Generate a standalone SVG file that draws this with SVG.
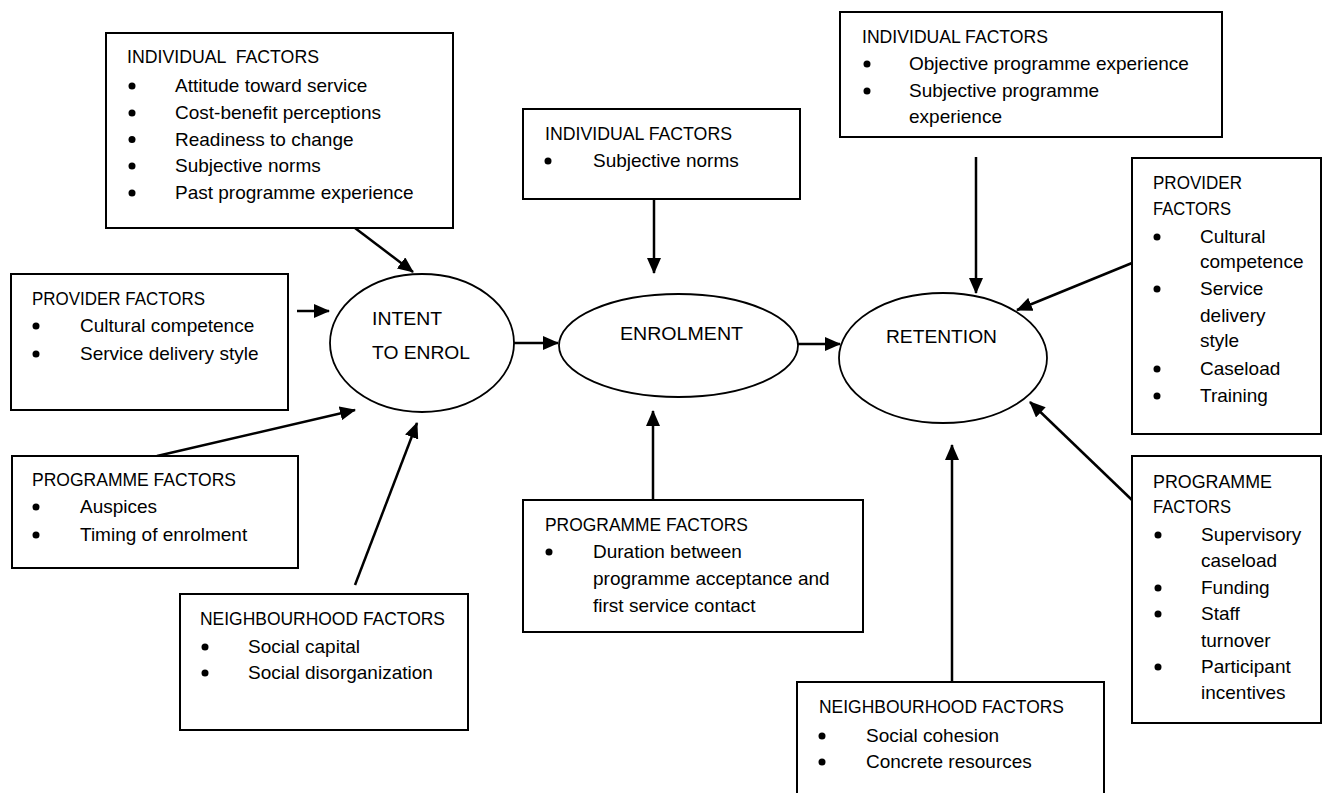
<svg xmlns="http://www.w3.org/2000/svg" width="1322" height="793" viewBox="0 0 1322 793">
  <defs>
    <marker id="arrow" markerUnits="userSpaceOnUse" markerWidth="16" markerHeight="14" viewBox="0 0 16 14" refX="15" refY="7" orient="auto">
      <path d="M0,0 L16,7 L0,14 z" fill="#000"/>
    </marker>
    <style>
      .box { fill: #fff; stroke: #000; stroke-width: 2; }
      .oval { fill: #fff; stroke: #000; stroke-width: 1.8; }
      .link { stroke: #000; stroke-width: 2.5; fill: none; marker-end: url(#arrow); }
      text { font-family: "Liberation Sans", Arial, sans-serif; font-size: 19px; fill: #000; }
      .dot { fill: #000; }
    </style>
  </defs>
  <rect width="1322" height="793" fill="#fff"/>

  <!-- connectors -->
  <g id="connectors">
    <line class="link" x1="355" y1="228" x2="413" y2="272"/>
    <line class="link" x1="297" y1="311" x2="329" y2="311"/>
    <line class="link" x1="157" y1="456" x2="355" y2="410"/>
    <line class="link" x1="355" y1="585" x2="417" y2="423"/>
    <line class="link" x1="514" y1="343" x2="558" y2="343"/>
    <line class="link" x1="654" y1="199" x2="654" y2="273"/>
    <line class="link" x1="653" y1="500" x2="653" y2="411"/>
    <line class="link" x1="798" y1="344" x2="840" y2="344"/>
    <line class="link" x1="976" y1="157" x2="976" y2="293"/>
    <line class="link" x1="1132" y1="263" x2="1017" y2="310"/>
    <line class="link" x1="1132" y1="500" x2="1030" y2="402"/>
    <line class="link" x1="952" y1="682" x2="952" y2="445"/>
  </g>

  <!-- outcome stages -->
  <g id="intent">
    <ellipse class="oval" cx="422" cy="343" rx="92" ry="69"/>
    <text x="372" y="325" textLength="70" lengthAdjust="spacingAndGlyphs">INTENT</text>
    <text x="372" y="359" textLength="98" lengthAdjust="spacingAndGlyphs">TO ENROL</text>
  </g>
  <g id="enrolment">
    <ellipse class="oval" cx="678.5" cy="345.5" rx="119.5" ry="51.5"/>
    <text x="620" y="340" textLength="123" lengthAdjust="spacingAndGlyphs">ENROLMENT</text>
  </g>
  <g id="retention">
    <ellipse class="oval" cx="943" cy="358" rx="104" ry="65"/>
    <text x="886" y="343" textLength="111" lengthAdjust="spacingAndGlyphs">RETENTION</text>
  </g>

  <!-- factors feeding intent to enrol -->
  <g id="intent-individual">
    <rect class="box" x="106" y="33" width="347" height="195"/>
    <text x="127" y="63" xml:space="preserve" textLength="192" lengthAdjust="spacingAndGlyphs">INDIVIDUAL  FACTORS</text>
    <circle class="dot" cx="132" cy="86" r="3.5"/><text x="175" y="92">Attitude toward service</text>
    <circle class="dot" cx="132" cy="113" r="3.5"/><text x="175" y="119">Cost-benefit perceptions</text>
    <circle class="dot" cx="132" cy="139.5" r="3.5"/><text x="175" y="145.5">Readiness to change</text>
    <circle class="dot" cx="132" cy="166" r="3.5"/><text x="175" y="172">Subjective norms</text>
    <circle class="dot" cx="132" cy="193" r="3.5"/><text x="175" y="199">Past programme experience</text>
  </g>
  <g id="intent-provider">
    <rect class="box" x="11" y="274" width="277" height="136"/>
    <text x="32" y="305" textLength="173" lengthAdjust="spacingAndGlyphs">PROVIDER FACTORS</text>
    <circle class="dot" cx="36" cy="326" r="3.5"/><text x="80" y="332">Cultural competence</text>
    <circle class="dot" cx="36" cy="354" r="3.5"/><text x="80" y="360">Service delivery style</text>
  </g>
  <g id="intent-programme">
    <rect class="box" x="12" y="456" width="286" height="112"/>
    <text x="32" y="486" textLength="204" lengthAdjust="spacingAndGlyphs">PROGRAMME FACTORS</text>
    <circle class="dot" cx="36" cy="507" r="3.5"/><text x="80" y="513">Auspices</text>
    <circle class="dot" cx="36" cy="535" r="3.5"/><text x="80" y="541">Timing of enrolment</text>
  </g>
  <g id="intent-neighbourhood">
    <rect class="box" x="180" y="594" width="288" height="136"/>
    <text x="200" y="625" textLength="245" lengthAdjust="spacingAndGlyphs">NEIGHBOURHOOD FACTORS</text>
    <circle class="dot" cx="205" cy="647" r="3.5"/><text x="248" y="653">Social capital</text>
    <circle class="dot" cx="205" cy="673" r="3.5"/><text x="248" y="679">Social disorganization</text>
  </g>

  <!-- factors feeding enrolment -->
  <g id="enrolment-individual">
    <rect class="box" x="523" y="109" width="277" height="90"/>
    <text x="545" y="140" textLength="187" lengthAdjust="spacingAndGlyphs">INDIVIDUAL FACTORS</text>
    <circle class="dot" cx="548" cy="161" r="3.5"/><text x="593" y="167">Subjective norms</text>
  </g>
  <g id="enrolment-programme">
    <rect class="box" x="523" y="500" width="340" height="132"/>
    <text x="545" y="531" textLength="203" lengthAdjust="spacingAndGlyphs">PROGRAMME FACTORS</text>
    <circle class="dot" cx="549" cy="552" r="3.5"/><text x="593" y="558">Duration between</text>
    <text x="593" y="585">programme acceptance and</text>
    <text x="593" y="612">first service contact</text>
  </g>

  <!-- factors feeding retention -->
  <g id="retention-individual">
    <rect class="box" x="840" y="12" width="382" height="125"/>
    <text x="862" y="43" textLength="186" lengthAdjust="spacingAndGlyphs">INDIVIDUAL FACTORS</text>
    <circle class="dot" cx="867" cy="64" r="3.5"/><text x="909" y="70">Objective programme experience</text>
    <circle class="dot" cx="867" cy="91" r="3.5"/><text x="909" y="97">Subjective programme</text>
    <text x="909" y="123">experience</text>
  </g>
  <g id="retention-provider">
    <rect class="box" x="1132" y="158" width="189" height="276"/>
    <text x="1153" y="189" textLength="89" lengthAdjust="spacingAndGlyphs">PROVIDER</text>
    <text x="1153" y="215" textLength="78" lengthAdjust="spacingAndGlyphs">FACTORS</text>
    <circle class="dot" cx="1157" cy="237" r="3.5"/><text x="1200" y="243">Cultural</text>
    <text x="1200" y="268">competence</text>
    <circle class="dot" cx="1157" cy="289" r="3.5"/><text x="1200" y="295">Service</text>
    <text x="1200" y="322">delivery</text>
    <text x="1200" y="347">style</text>
    <circle class="dot" cx="1157" cy="369" r="3.5"/><text x="1200" y="375">Caseload</text>
    <circle class="dot" cx="1157" cy="396" r="3.5"/><text x="1200" y="402">Training</text>
  </g>
  <g id="retention-programme">
    <rect class="box" x="1132" y="456" width="189" height="267"/>
    <text x="1153" y="488" textLength="119" lengthAdjust="spacingAndGlyphs">PROGRAMME</text>
    <text x="1153" y="513" textLength="78" lengthAdjust="spacingAndGlyphs">FACTORS</text>
    <circle class="dot" cx="1158" cy="535" r="3.5"/><text x="1201" y="541">Supervisory</text>
    <text x="1201" y="567">caseload</text>
    <circle class="dot" cx="1158" cy="588" r="3.5"/><text x="1201" y="594">Funding</text>
    <circle class="dot" cx="1158" cy="614" r="3.5"/><text x="1201" y="620">Staff</text>
    <text x="1201" y="647">turnover</text>
    <circle class="dot" cx="1158" cy="667" r="3.5"/><text x="1201" y="673">Participant</text>
    <text x="1201" y="699">incentives</text>
  </g>
  <g id="retention-neighbourhood">
    <rect class="box" x="797" y="682" width="307" height="120"/>
    <text x="819" y="713" textLength="245" lengthAdjust="spacingAndGlyphs">NEIGHBOURHOOD FACTORS</text>
    <circle class="dot" cx="822" cy="736" r="3.5"/><text x="866" y="742">Social cohesion</text>
    <circle class="dot" cx="822" cy="762" r="3.5"/><text x="866" y="768">Concrete resources</text>
  </g>
</svg>
